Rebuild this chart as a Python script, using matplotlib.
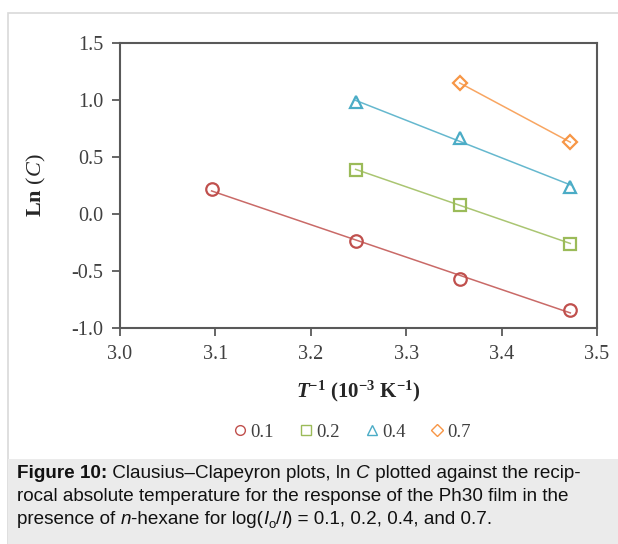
import numpy as np
import matplotlib
matplotlib.use('Agg')
import matplotlib.pyplot as plt
from matplotlib.patches import Rectangle
from matplotlib.lines import Line2D

# reciprocal temperature (10^-3 K^-1) and ln C for each log(Io/I) level
inv_t = [3.096, 3.247, 3.356, 3.472]
ln_c_01 = [0.22, -0.24, -0.57, -0.84]
inv_t_02 = [3.247, 3.356, 3.472]
ln_c_02 = [0.39, 0.08, -0.26]
inv_t_04 = [3.247, 3.356, 3.472]
ln_c_04 = [0.98, 0.67, 0.24]
inv_t_07 = [3.356, 3.472]
ln_c_07 = [1.15, 0.63]

levels = ['0.1', '0.2', '0.4', '0.7']
colors = ['#c0504d', '#9bbb59', '#4bacc6', '#f79646']
markers = ['o', 's', '^', 'D']

plt.rcParams['font.family'] = ['Liberation Serif', 'DejaVu Serif']
plt.rcParams['mathtext.fontset'] = 'custom'
plt.rcParams['mathtext.rm'] = 'Liberation Serif'
plt.rcParams['mathtext.it'] = 'Liberation Serif:italic'
plt.rcParams['mathtext.bf'] = 'Liberation Serif:bold'
plt.rcParams['mathtext.bfit'] = 'Liberation Serif:italic:bold'

W, H = 618, 544
fig = plt.figure(figsize=(W / 100, H / 100), dpi=100)

# outer frame and caption panel, kept behind the axes
fig.patches.append(Rectangle((8 / W, -0.01), 1.0, 1.01 - 13 / H, transform=fig.transFigure,
                             facecolor='white', edgecolor='#d9d9d9', linewidth=1.2, zorder=-3))
fig.patches.append(Rectangle((8 / W, 0), 1.0, (H - 459) / H, transform=fig.transFigure,
                             facecolor='#ebebeb', edgecolor='none', zorder=-2))

ax = fig.add_axes([120 / W, 1 - 328 / H, (597 - 120) / W, (328 - 43) / H])

series = [(inv_t, ln_c_01), (inv_t_02, ln_c_02), (inv_t_04, ln_c_04), (inv_t_07, ln_c_07)]
for (x, y), c, m in zip(series, colors, markers):
    x = np.array(x)
    y = np.array(y)
    # linear trendline across the measured range
    k, b = np.polyfit(x, y, 1)
    ax.plot([x[0], x[-1]], [k * x[0] + b, k * x[-1] + b], color=c, lw=1.1, alpha=0.85, zorder=2)
    ax.plot(x, y, linestyle='none', marker=m, markersize=9 if m != 'D' else 7,
            markerfacecolor='none', markeredgecolor=c, markeredgewidth=1.6, zorder=3)

ax.set_xlim(3.0, 3.5)
ax.set_ylim(-1.0, 1.5)
ax.set_xticks(np.arange(3.0, 3.51, 0.1))
ax.set_yticks(np.arange(-1.0, 1.51, 0.5))
ax.xaxis.set_major_formatter(matplotlib.ticker.FormatStrFormatter('%.1f'))
ax.yaxis.set_major_formatter(matplotlib.ticker.FuncFormatter(lambda v, p: ('%.1f' % v).replace('\u2212', '-')))
for s in ax.spines.values():
    s.set_color('#595959')
    s.set_linewidth(1.5)
ax.tick_params(direction='out', length=6, width=1.3, color='#595959',
               labelsize=14.5, labelcolor='#404040', pad=6)
ax.set_xlabel(r'$\mathbfit{T}^{\mathbf{-1}}$ (10$^{\mathbf{-3}}$ K$^{\mathbf{-1}}$)',
              fontsize=15, fontweight='bold', color='#262626')
ax.set_ylabel(r'$\mathbf{Ln}$ ($\mathit{C}$)', fontsize=16, color='#262626')
ax.xaxis.set_label_coords(0.5, (328 - 379) / 285)
ax.yaxis.set_label_coords((48 - 120) / 477, 0.5)

handles = [Line2D([], [], linestyle='none', marker=m, markersize=7 if m != 'D' else 6,
                  markerfacecolor='none', markeredgecolor=c, markeredgewidth=1.0)
           for c, m in zip(colors, markers)]
fig.legend(handles, levels, loc='center', bbox_to_anchor=(352 / W, 1 - 432 / H), ncol=4,
           frameon=False, fontsize=13.5, handlelength=0.8, handletextpad=0.15,
           columnspacing=1.3, labelcolor='#404040')

# caption, drawn run by run so mixed styles line up
renderer = fig.canvas.get_renderer()
cap_lines = [
    [('Figure 10:', 'bold'), (' Clausius\u2013Clapeyron plots, ln ', 'normal'), ('C', 'italic'),
     (' plotted against the recip-', 'normal')],
    [('rocal absolute temperature for the response of the Ph30 film in the', 'normal')],
    [('presence of ', 'normal'), ('n', 'italic'), ('-hexane for log(', 'normal'), ('I', 'italic'),
     ('o', 'sub'), ('/', 'normal'), ('I', 'italic'), (') = 0.1, 0.2, 0.4, and 0.7.', 'normal')],
]
cap_y = [474, 497, 520]
for runs, yb in zip(cap_lines, cap_y):
    xp = 17
    for txt, style in runs:
        kw = dict(family=['Liberation Sans', 'DejaVu Sans'], fontsize=13.55, color='#111111',
                  va='baseline', ha='left')
        y = 1 - (yb + 4) / H
        if style == 'bold':
            kw['fontweight'] = 'bold'
        elif style == 'italic':
            kw['fontstyle'] = 'italic'
        elif style == 'sub':
            kw['fontsize'] = 9.5
            y -= 4 / H
        t = fig.text(xp / W, y, txt, **kw)
        bb = t.get_window_extent(renderer=renderer)
        xp += bb.width

fig.savefig('out.png', dpi=100)
